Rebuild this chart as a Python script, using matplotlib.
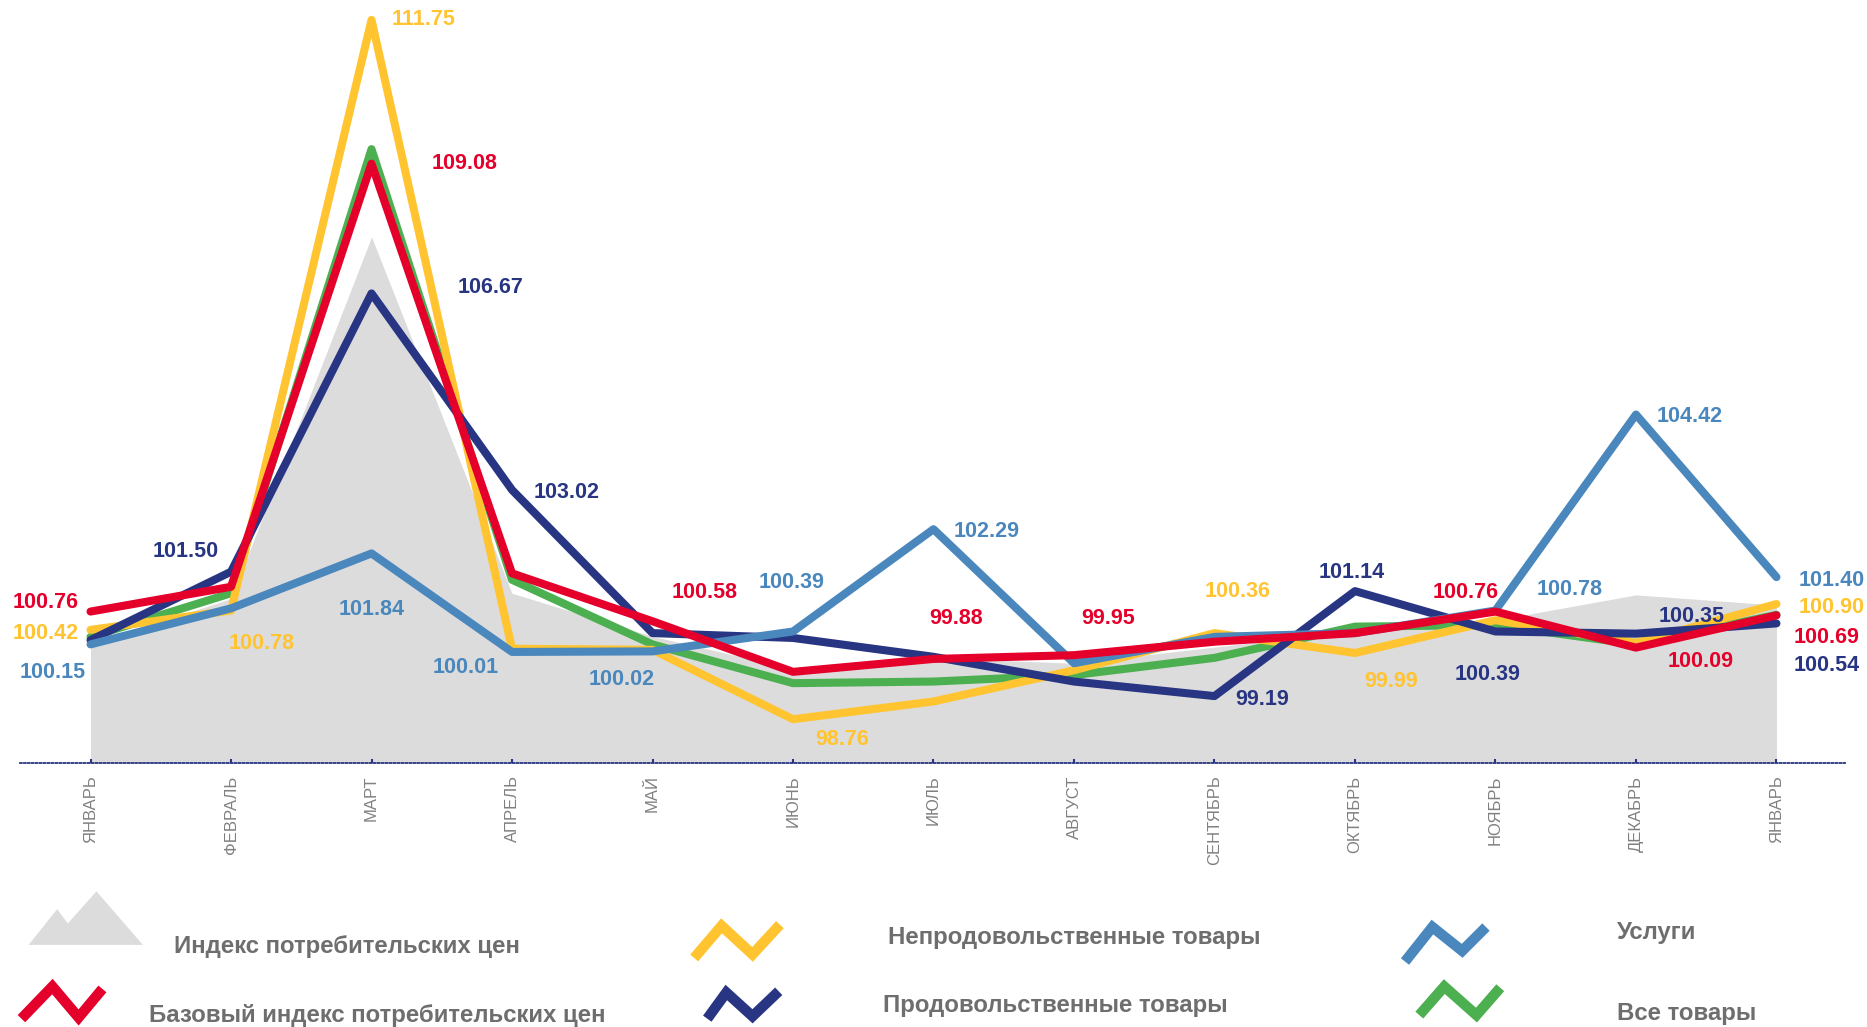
import numpy as np
import matplotlib
matplotlib.use("Agg")
import matplotlib.pyplot as plt

plt.rcParams['font.family'] = ['Liberation Sans', 'DejaVu Sans']

# --- data -------------------------------------------------------------
months = ['ЯНВАРЬ', 'ФЕВРАЛЬ', 'МАРТ', 'АПРЕЛЬ', 'МАЙ', 'ИЮНЬ', 'ИЮЛЬ',
          'АВГУСТ', 'СЕНТЯБРЬ', 'ОКТЯБРЬ', 'НОЯБРЬ', 'ДЕКАБРЬ', 'ЯНВАРЬ']

cpi = [100.15, 101.00, 107.72, 101.10, 100.30, 99.70, 99.90, 99.80,
       100.10, 100.40, 100.60, 101.07, 100.88]
nonfood = [100.42, 100.78, 111.75, 100.07, 100.05, 98.76, 99.09, 99.67,
           100.36, 99.99, 100.60, 100.18, 100.90]
food = [100.23, 101.50, 106.67, 103.02, 100.36, 100.27, 99.92, 99.46,
        99.19, 101.14, 100.39, 100.35, 100.54]
services = [100.15, 100.82, 101.84, 100.01, 100.02, 100.39, 102.29, 99.80,
            100.29, 100.36, 100.78, 104.42, 101.40]
core = [100.76, 101.22, 109.08, 101.47, 100.58, 99.64, 99.88, 99.95,
        100.20, 100.36, 100.76, 100.09, 100.69]
all_goods = [100.29, 101.10, 109.35, 101.35, 100.15, 99.43, 99.46, 99.58,
             99.90, 100.48, 100.51, 100.15, 100.70]

# which points carry a value label
labeled = {
    'nonfood': [0, 1, 2, 5, 8, 9, 12],
    'core': [0, 2, 4, 6, 7, 10, 11, 12],
    'food': [1, 2, 3, 8, 9, 10, 11, 12],
    'services': [0, 2, 3, 4, 5, 6, 10, 11, 12],
}

# --- styles -----------------------------------------------------------
YEL = '#FFC430'
RED = '#E4002B'
NAVY = '#283583'
SKY = '#4A87BD'
GRN = '#4CAF50'
GRAY = '#DCDCDC'
TXT = '#6E6E6E'

# label offsets (px in the 1568-wide view: dx right, dy down)
offsets = {
    'nonfood': [(-38, 3), (26, 28), (44, 0), (41, 17), (19, -35), (30, 24), (46, 3)],
    'core': [(-38, -8), (78, 0), (44, -24), (19, -34), (29, -31), (-25, -16), (54, 12), (42, 19)],
    'food': [(-38, -17), (100, -5), (46, 2), (40, 3), (-3, -16), (-7, 36), (47, -14), (42, 35)],
    'services': [(-32, 24), (0, 47), (-39, 13), (-26, 24), (-1, -41), (45, 2), (62, -18), (45, 2), (46, 3)],
}

fig = plt.figure(figsize=(18.67, 10.27), dpi=100)
ax = fig.add_axes([20 / 1867, 1 - 763 / 1027, 1826 / 1867, 763 / 1027])

x = np.arange(len(months))
ax.fill_between(x, 97.947, cpi, color=GRAY, lw=0, zorder=1)

series = [('all_goods', all_goods, GRN, 2),
          ('nonfood', nonfood, YEL, 3),
          ('food', food, NAVY, 4),
          ('services', services, SKY, 5),
          ('core', core, RED, 6)]
for name, vals, col, z in series:
    ax.plot(x, vals, color=col, lw=5.8, solid_joinstyle='round',
            solid_capstyle='round', zorder=z)
    if name in labeled:
        for i, (dx, dy) in zip(labeled[name], offsets[name]):
            ax.annotate('%.2f' % vals[i], (x[i], vals[i]),
                        xytext=(dx * 1.19, -dy * 1.19), textcoords='offset pixels',
                        ha='center', va='center', fontsize=15.5, fontweight='bold',
                        color=col, zorder=10)

ax.set_xlim(-0.502, 12.495)
ax.set_ylim(97.947, 112.12)
for s in ['top', 'right', 'left']:
    ax.spines[s].set_visible(False)
ax.spines['bottom'].set_linestyle((0, (1, 1.2)))
ax.spines['bottom'].set_color(NAVY)
ax.spines['bottom'].set_linewidth(1.3)
ax.set_yticks([])
ax.set_xticks(x)
ax.set_xticklabels(months, rotation=90, fontsize=12, color='#808080')
ax.tick_params(axis='x', direction='in', length=3, width=1.5, color=NAVY, pad=9)

# --- legend drawn by hand -------------------------------------------
lg = fig.add_axes([0, 0, 1, 1])
lg.set_xlim(0, 1568)
lg.set_ylim(863, 0)
lg.axis('off')
lg.patch.set_alpha(0)

mountain = [(24, 794), (48, 764), (57, 776), (81, 749), (120, 794)]
lg.add_patch(plt.Polygon(mountain, closed=True, color=GRAY, lw=0))

zigzags = [
    (YEL, [(583, 805), (606, 778), (632, 802), (655, 777)]),
    (SKY, [(1180, 808), (1203, 779), (1228, 799), (1248, 779)]),
    (RED, [(18, 856), (44, 829), (66, 855), (86, 831)]),
    (NAVY, [(594, 856), (610, 834), (632, 854), (654, 833)]),
    (GRN, [(1192, 853), (1213, 829), (1240, 853), (1260, 830)]),
]
for col, pts in zigzags:
    px, py = zip(*pts)
    lg.plot(px, py, color=col, lw=7.5, solid_joinstyle='miter', solid_capstyle='butt')

legend_text = [
    (146, 795, 'Индекс потребительских цен'),
    (746, 788, 'Непродовольственные товары'),
    (1358, 784, 'Услуги'),
    (125, 853, 'Базовый индекс потребительских цен'),
    (742, 845, 'Продовольственные товары'),
    (1358, 852, 'Все товары'),
]
for tx, ty, t in legend_text:
    lg.text(tx, ty, t, ha='left', va='center', fontsize=17.3, fontweight='bold', color=TXT)

fig.savefig('out.png', dpi=100)
